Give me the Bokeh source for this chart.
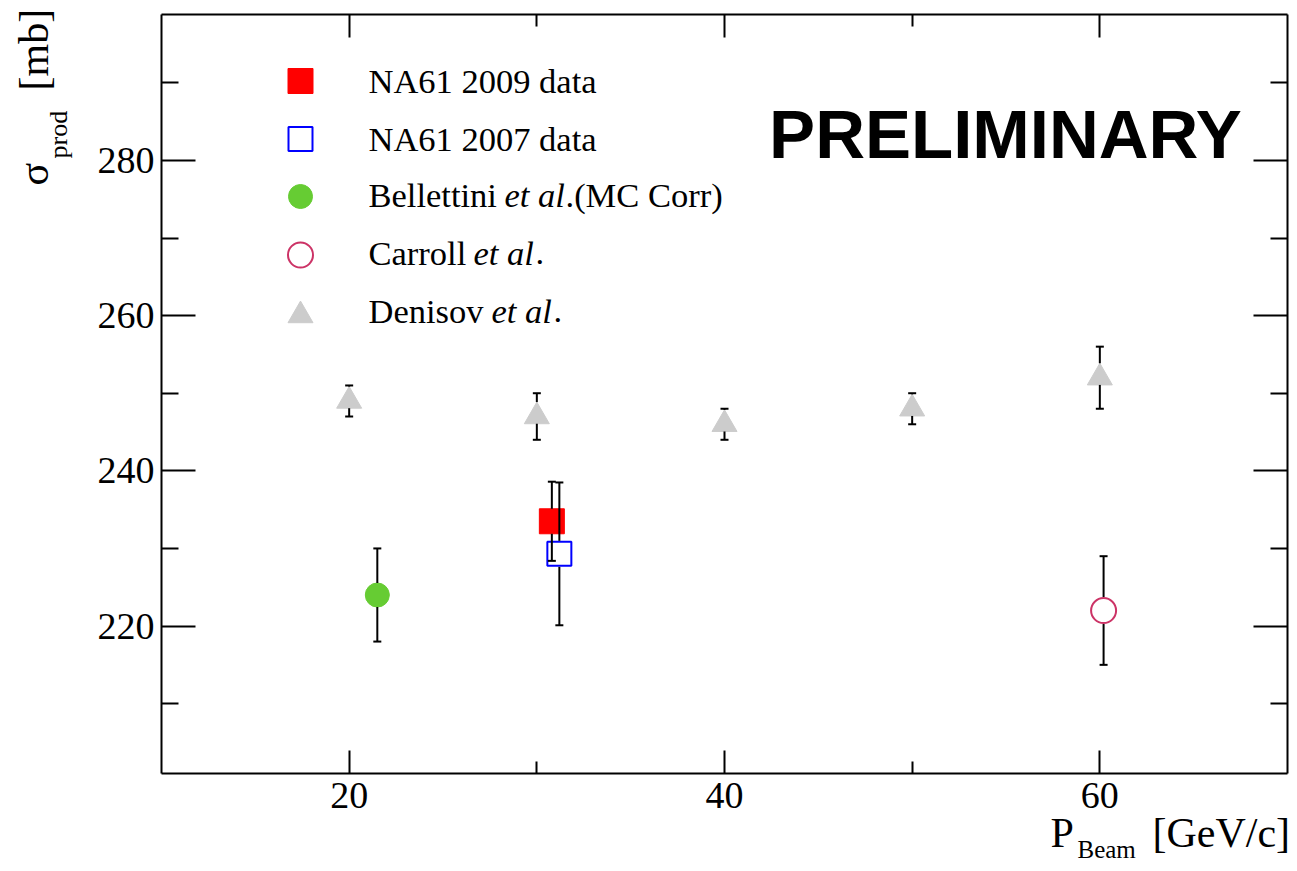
import math
from bokeh.plotting import figure
from bokeh.models import (Range1d, FixedTicker, LinearAxis, Label, Whisker,
                          TeeHead, ColumnDataSource, CustomJSTickFormatter)
from bokeh.embed import file_html
from bokeh.resources import INLINE

# ---------------- data ----------------
na61_2009_p = [30.8]
na61_2009_sigma = [233.5]
na61_2009_err = [5.1]

na61_2007_p = [31.2]
na61_2007_sigma = [229.3]
na61_2007_err = [9.2]

bellettini_p = [21.5]
bellettini_sigma = [224.0]
bellettini_err = [6.0]

carroll_p = [60.2]
carroll_sigma = [222.0]
carroll_err = [7.0]

denisov_p = [20, 30, 40, 50, 60]
denisov_sigma = [249, 247, 246, 248, 252]
denisov_err = [2, 3, 2, 2, 4]

x_major_ticks = [20, 40, 60]
x_minor_ticks = [30, 50]
y_major_ticks = [220, 240, 260, 280]
y_minor_ticks = [210, 230, 250, 270, 290]

legend_labels = ["NA61 2009 data", "NA61 2007 data", "Bellettini", "Carroll", "Denisov"]

# ---------------- layout ----------------
W, H = 1289, 863
BOX_L, BOX_R, BOX_T, BOX_B = 161, 1287, 14, 773
X0, X1 = 10, 70
Y0, Y1 = 201.0, 298.8
KX = (BOX_R - BOX_L) / (X1 - X0)   # px per GeV/c
KY = (BOX_B - BOX_T) / (Y1 - Y0)   # px per mb
XS, XE = X0 - BOX_L / KX, X1 + (W - BOX_R) / KX
YS, YE = Y0 - (H - BOX_B) / KY, Y1 + BOX_T / KY
SERIF = "Liberation Serif"
SANS = "Liberation Sans"

p = figure(width=W, height=H,
           x_range=Range1d(XS, XE), y_range=Range1d(YS, YE),
           x_axis_location=None, y_axis_location=None,
           min_border_left=0, min_border_right=0,
           min_border_top=0, min_border_bottom=0,
           output_backend="svg", toolbar_location=None)
p.xgrid.visible = False
p.ygrid.visible = False
p.outline_line_color = None
p.background_fill_color = "white"
p.border_fill_color = "white"


def style_axis(ax, tin, mtin, labels):
    ax.major_tick_in = tin
    ax.major_tick_out = 0
    ax.minor_tick_in = mtin
    ax.minor_tick_out = 0
    ax.major_tick_line_width = 2
    ax.minor_tick_line_width = 2
    ax.major_tick_line_color = "black"
    ax.minor_tick_line_color = "black"
    ax.axis_line_width = 2
    ax.axis_line_color = "black"
    if labels:
        ax.major_label_text_font = SERIF
        ax.major_label_text_font_size = "38px"
        ax.major_label_text_color = "black"
    else:
        ax.formatter = CustomJSTickFormatter(code="return ''")
        ax.major_label_text_font_size = "0px"
        ax.major_label_standoff = 0


bottom_ax = LinearAxis(fixed_location=Y0, bounds=(X0, X1),
                       ticker=FixedTicker(ticks=x_major_ticks, minor_ticks=x_minor_ticks))
style_axis(bottom_ax, 23, 12, True)
bottom_ax.major_label_standoff = 9
p.add_layout(bottom_ax, "below")

top_ax = LinearAxis(fixed_location=Y1, bounds=(X0, X1),
                    ticker=FixedTicker(ticks=x_major_ticks, minor_ticks=x_minor_ticks))
style_axis(top_ax, 23, 12, False)
p.add_layout(top_ax, "above")

left_ax = LinearAxis(fixed_location=X0, bounds=(Y0, Y1),
                     ticker=FixedTicker(ticks=y_major_ticks, minor_ticks=y_minor_ticks))
style_axis(left_ax, 34, 17, True)
left_ax.major_label_standoff = 7
p.add_layout(left_ax, "left")

right_ax = LinearAxis(fixed_location=X1, bounds=(Y0, Y1),
                      ticker=FixedTicker(ticks=y_major_ticks, minor_ticks=y_minor_ticks))
style_axis(right_ax, 34, 17, False)
p.add_layout(right_ax, "right")


def errbars(xs, ys, es, gap_up_px, gap_dn_px):
    src = ColumnDataSource(dict(
        x=xs,
        hi=[y + e for y, e in zip(ys, es)],
        up0=[y + gap_up_px / KY for y in ys],
        dn0=[y - gap_dn_px / KY for y in ys],
        lo=[y - e for y, e in zip(ys, es)],
    ))
    p.add_layout(Whisker(source=src, base="x", lower="up0", upper="hi",
                         upper_head=TeeHead(size=8, line_width=2, line_color="black"),
                         lower_head=None, line_width=2, line_color="black",
                         level="overlay"))
    p.add_layout(Whisker(source=src, base="x", lower="lo", upper="dn0",
                         lower_head=TeeHead(size=8, line_width=2, line_color="black"),
                         upper_head=None, line_width=2, line_color="black",
                         level="overlay"))


TRI = 25
tri_h = TRI * math.sqrt(3) / 2

# markers
p.scatter(denisov_p, denisov_sigma, marker="triangle", size=TRI,
          fill_color="#cccccc", line_color="#cccccc")
p.scatter(bellettini_p, bellettini_sigma, marker="circle", size=24,
          fill_color="#66cc33", line_color="#66cc33")
p.scatter(na61_2009_p, na61_2009_sigma, marker="square", size=25,
          fill_color="#ff0000", line_color="#ff0000")
p.scatter(na61_2007_p, na61_2007_sigma, marker="square", size=24,
          fill_color=None, line_color="#0000ff", line_width=2)
p.scatter(carroll_p, carroll_sigma, marker="circle", size=25,
          fill_color=None, line_color="#cc3366", line_width=2)

errbars(denisov_p, denisov_sigma, denisov_err, tri_h * 2 / 3, tri_h / 3)
errbars(bellettini_p, bellettini_sigma, bellettini_err, 12, 12)
errbars(na61_2009_p, na61_2009_sigma, na61_2009_err, 12.5, 12.5)
errbars(na61_2007_p, na61_2007_sigma, na61_2007_err, 13, 13)
errbars(carroll_p, carroll_sigma, carroll_err, 13.5, 13.5)


# ---------------- picture-position helpers for annotations ----------------
def dx(px):
    return XS + px / KX


def dy(py):
    return YE - py / KY


def lab(text, px, base, size, font=SERIF, style="normal", align="left", rotated=False):
    mid = base - (0.3465 if font == SANS else 0.3375) * size
    if rotated:
        x, y, angle = dx(mid), dy(px), math.pi / 2
    else:
        x, y, angle = dx(px), dy(mid), 0.0
    p.add_layout(Label(x=x, y=y, x_units="data", y_units="data",
                       text=text, text_font=font, text_font_size=f"{size}px",
                       text_font_style=style, text_align=align,
                       text_baseline="middle", angle=angle,
                       text_color="black"))


# ---------------- legend ----------------
LX = 300
p.scatter([dx(LX)], [dy(80.5)], marker="square", size=25,
          fill_color="#ff0000", line_color="#ff0000")
p.scatter([dx(LX)], [dy(138.5)], marker="square", size=24,
          fill_color=None, line_color="#0000ff", line_width=2)
p.scatter([dx(LX)], [dy(196)], marker="circle", size=24,
          fill_color="#66cc33", line_color="#66cc33")
p.scatter([dx(LX)], [dy(254.5)], marker="circle", size=25,
          fill_color=None, line_color="#cc3366", line_width=2)
p.scatter([dx(LX)], [dy(315)], marker="triangle", size=TRI,
          fill_color="#cccccc", line_color="#cccccc")

TX = 368
LS = 34.5
lab(legend_labels[0], TX, 92.3, LS)
lab(legend_labels[1], TX, 150, LS)
lab(legend_labels[2], TX, 205.7, LS)
lab("et al", 504, 205.7, LS, style="italic")
lab(".(MC Corr)", 565, 205.7, LS)
lab(legend_labels[3], TX, 264, LS)
lab("et al", 473, 264, LS, style="italic")
lab(".", 535, 264, LS)
lab(legend_labels[4], TX, 321.7, LS)
lab("et al", 491, 321.7, LS, style="italic")
lab(".", 553, 321.7, LS)

# PRELIMINARY
lab("PRELIMINARY", 1005, 158, 69, font=SANS, style="bold", align="center")

# axis titles
lab("P", 1050, 847, 42)
lab("Beam", 1077, 857, 25)
lab("[GeV/c]", 1152, 847, 42)

lab("\u03c3", 185, 48, 42, rotated=True)
lab("prod", 158, 67, 26, rotated=True)
lab("[mb]", 90, 48, 42, rotated=True)

open("out.html", "w").write(file_html(p, INLINE))
